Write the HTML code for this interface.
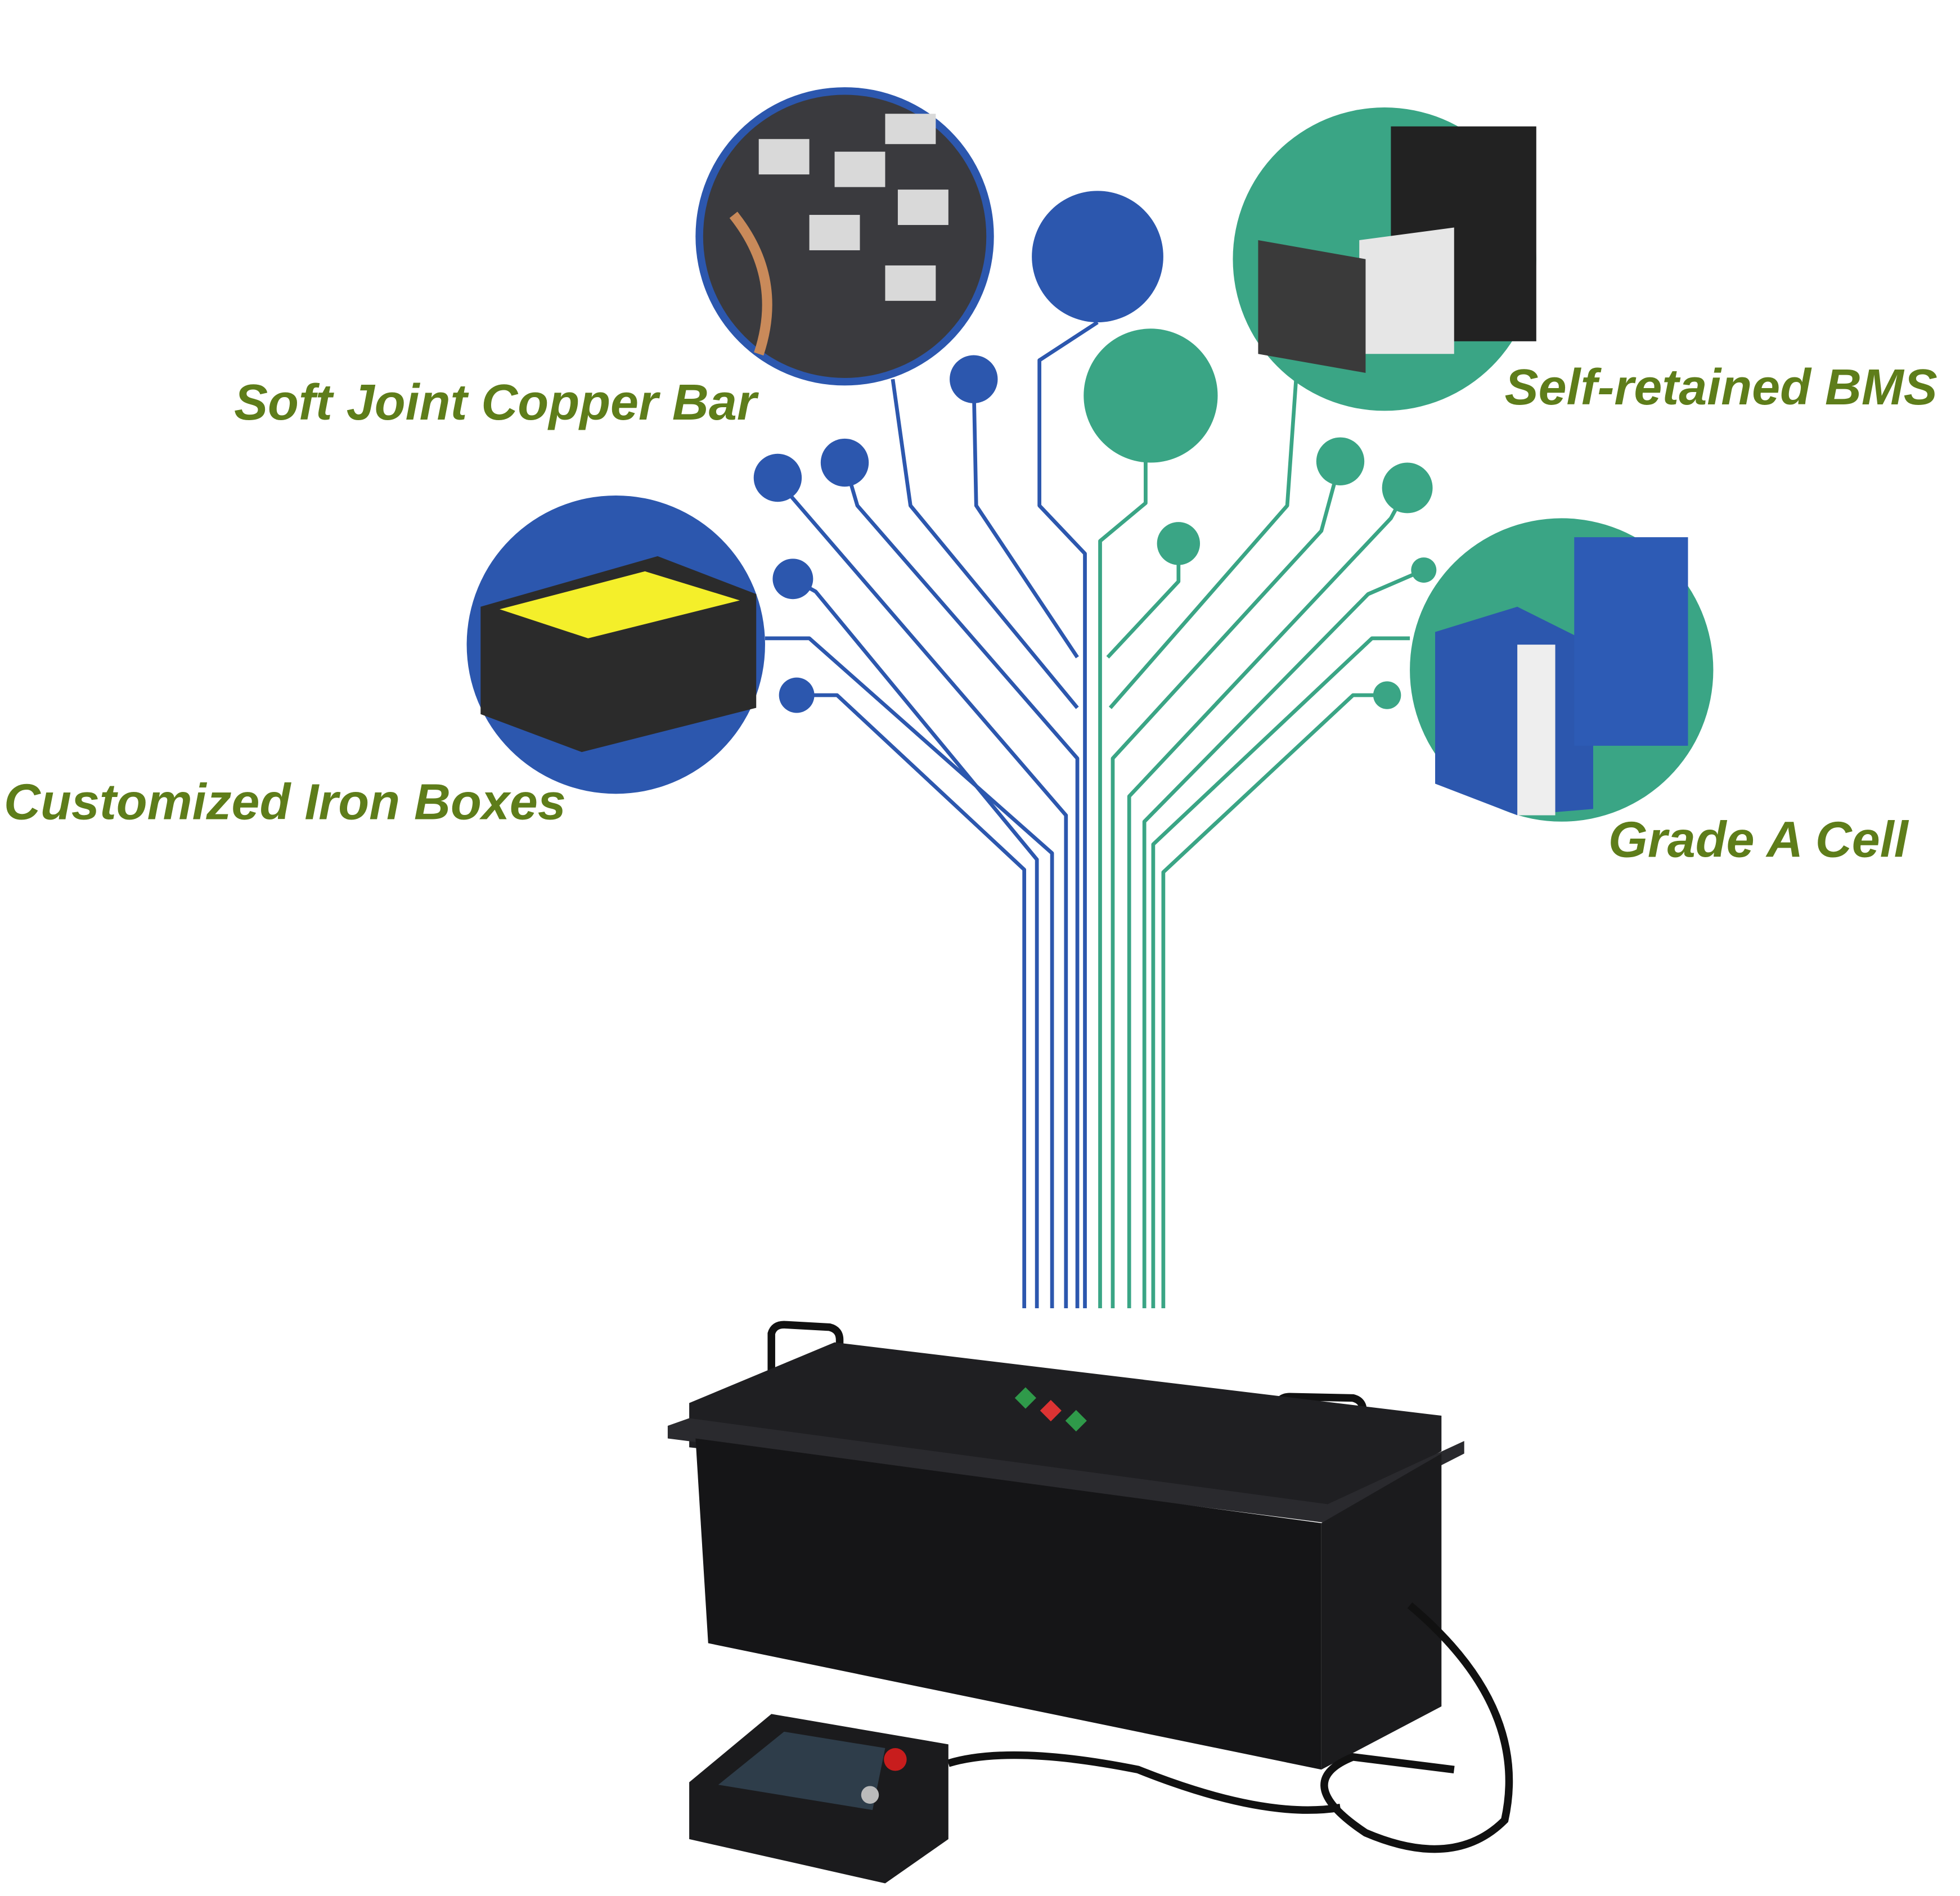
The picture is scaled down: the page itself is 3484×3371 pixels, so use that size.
<!DOCTYPE html>
<html><head><meta charset="utf-8"><style>
html,body{margin:0;padding:0;background:#fff;}
svg{display:block;}
</style></head><body>
<svg width="3484" height="3371" viewBox="0 0 1550 1500" xmlns="http://www.w3.org/2000/svg">
<rect width="1550" height="1500" fill="#fff"/>
<g fill="none" stroke-width="3" stroke-linejoin="round">
<g stroke="#2c57ae">
<polyline points="630,550 662,550 810,688 810,1035"/>
<polyline points="627,458 645,468 820,680 820,1035"/>
<polyline points="605,505 640,505 832,675 832,1035"/>
<polyline points="615,378 625,392 843,645 843,1035"/>
<polyline points="668,366 678,400 852,600 852,1035"/>
<polyline points="706,300 720,400 852,560"/>
<polyline points="770,300 772,400 852,520"/>
<polyline points="868,255 822,285 822,400 858,438 858,1035"/>
</g>
<g stroke="#3aa585">
<polyline points="906,365 906,398 870,428 870,1035"/>
<polyline points="932,430 932,460 876,520"/>
<polyline points="1025,300 1018,400 878,560"/>
<polyline points="1060,365 1045,420 880,600 880,1035"/>
<polyline points="1113,386 1100,410 893,630 893,1035"/>
<polyline points="1126,451 1082,470 905,650 905,1035"/>
<polyline points="1115,505 1085,505 912,668 912,1035"/>
<polyline points="1097,550 1070,550 920,690 920,1035"/>
</g>
</g>
<g fill="#2c57ae">
<circle cx="868" cy="203" r="52"/>
<circle cx="770" cy="300" r="19"/>
<circle cx="615" cy="378" r="19"/>
<circle cx="668" cy="366" r="19"/>
<circle cx="627" cy="458" r="16"/>
<circle cx="630" cy="550" r="14"/>
</g>
<g fill="#3aa585">
<circle cx="910" cy="313" r="53"/>
<circle cx="1060" cy="365" r="19"/>
<circle cx="1113" cy="386" r="20"/>
<circle cx="932" cy="430" r="17"/>
<circle cx="1126" cy="451" r="10"/>
<circle cx="1097" cy="550" r="11"/>
</g>
<circle cx="668" cy="187" r="118" fill="#2c57ae"/>
<circle cx="668" cy="187" r="112" fill="#3a3a3e"/>
<g fill="#d9d9d9"><rect x="600" y="110" width="40" height="28"/><rect x="660" y="120" width="40" height="28"/><rect x="710" y="150" width="40" height="28"/><rect x="640" y="170" width="40" height="28"/><rect x="700" y="210" width="40" height="28"/><rect x="700" y="90" width="40" height="24"/></g>
<path d="M580,170 Q620,220 600,280" stroke="#c98a5a" stroke-width="8" fill="none"/>
<circle cx="487" cy="510" r="118" fill="#2c57ae"/>
<polygon points="380,480 520,440 598,470 598,560 460,595 380,565" fill="#2b2b2b"/>
<polygon points="395,482 510,452 585,475 465,505" fill="#f4ef2a"/>
<circle cx="1095" cy="205" r="120" fill="#3aa585"/>
<rect x="1100" y="100" width="115" height="170" fill="#222"/>
<polygon points="1075,190 1150,180 1150,280 1075,280" fill="#e6e6e6"/>
<polygon points="995,190 1080,205 1080,295 995,280" fill="#3a3a3a"/>
<circle cx="1235" cy="530" r="120" fill="#3aa585"/>
<polygon points="1135,500 1200,480 1260,510 1260,640 1200,645 1135,620" fill="#2c57ae"/>
<rect x="1245" y="425" width="90" height="165" fill="#2d5bb5"/>
<rect x="1200" y="510" width="30" height="135" fill="#eee"/>
<g font-family="Liberation Sans, sans-serif" font-weight="bold" font-style="italic" fill="#5e7d1a" font-size="40">
<text x="185" y="332">Soft Joint Copper Bar</text>
<text x="1190" y="320">Self-retained BMS</text>
<text x="3" y="648">Customized Iron Boxes</text>
<text x="1272" y="678">Grade A Cell</text>
</g>
<path d="M610,1098 L610,1055 Q612,1048 620,1048 L656,1050 Q664,1052 664,1060 L664,1098" stroke="#111" stroke-width="6" fill="none"/>
<path d="M1010,1125 L1010,1112 Q1012,1105 1020,1105 L1070,1106 Q1078,1108 1078,1116 L1078,1150" stroke="#111" stroke-width="6" fill="none"/>
<polygon points="545,1110 660,1062 1140,1120 1140,1148 1050,1200 545,1145" fill="#1f1f22"/>
<polygon points="528,1128 545,1122 1050,1190 1158,1140 1158,1150 1050,1205 528,1138" fill="#2a2a2e"/>
<polygon points="550,1138 1045,1205 1045,1400 560,1300" fill="#151517"/>
<polygon points="1045,1205 1140,1150 1140,1350 1045,1400" fill="#1b1b1d"/>
<rect x="805" y="1100" width="12" height="12" fill="#2f9a4a" transform="rotate(45 811 1106)"/>
<rect x="825" y="1110" width="12" height="12" fill="#d33" transform="rotate(45 831 1116)"/>
<rect x="845" y="1118" width="12" height="12" fill="#2f9a4a" transform="rotate(45 851 1124)"/>
<path d="M1115,1270 Q1210,1350 1190,1440 Q1150,1480 1080,1450 Q1020,1410 1070,1390 L1150,1400" stroke="#111" stroke-width="6" fill="none"/>
<path d="M750,1395 Q800,1380 900,1400 Q1000,1440 1060,1430" stroke="#111" stroke-width="6" fill="none"/>
<polygon points="545,1410 610,1356 750,1380 750,1455 700,1490 545,1455" fill="#1b1b1d"/>
<polygon points="568,1412 620,1370 700,1383 690,1432" fill="#2e3d4a"/>
<circle cx="708" cy="1392" r="9" fill="#c81d1d"/>
<circle cx="688" cy="1420" r="7" fill="#bbb"/>
</svg>
</body></html>
